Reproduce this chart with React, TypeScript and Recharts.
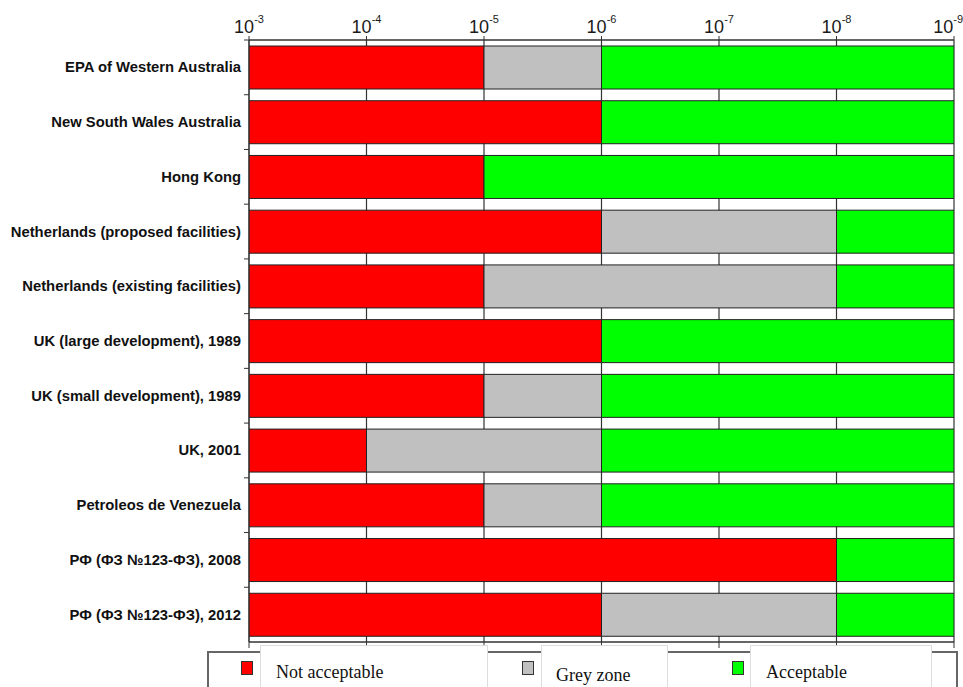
import React from "react";
import { BarChart, Bar, XAxis, YAxis, CartesianGrid } from "recharts";

const categories = [
  "EPA of Western Australia",
  "New South Wales Australia",
  "Hong Kong",
  "Netherlands (proposed facilities)",
  "Netherlands (existing facilities)",
  "UK (large development), 1989",
  "UK (small development), 1989",
  "UK, 2001",
  "Petroleos de Venezuela",
  "РФ (ФЗ №123-ФЗ), 2008",
  "РФ (ФЗ №123-ФЗ), 2012",
];
// exponent (10^-n) where "not acceptable" ends and "acceptable" begins
const notAcceptableEnd = [5, 6, 5, 6, 5, 6, 5, 4, 5, 8, 6];
const acceptableStart = [6, 6, 5, 8, 8, 6, 6, 6, 6, 8, 8];
const axisStart = 3;
const axisEnd = 9;
const tickExponents = [3, 4, 5, 6, 7, 8, 9];
const legendLabels = ["Not acceptable", "Grey zone", "Acceptable"];

const data = categories.map((name, i) => ({
  name,
  base: axisStart,
  red: notAcceptableEnd[i] - axisStart,
  grey: acceptableStart[i] - notAcceptableEnd[i],
  green: axisEnd - acceptableStart[i],
}));

const W = 963;
const H = 687;
const TOP = 40;
const BOTTOM_AXIS_H = 10;
const BOTTOM_MARGIN = 35;
const BAND = (H - TOP - BOTTOM_AXIS_H - BOTTOM_MARGIN) / categories.length;

const TopTick = (props: any) => {
  const { x, payload } = props;
  const last = payload.value === axisEnd;
  return (
    <text
      x={last ? 963 : x}
      y={33}
      textAnchor={last ? "end" : "middle"}
      fontFamily="'Liberation Sans', Arial, sans-serif"
      fill="#1a1a1a"
    >
      <tspan fontSize={18}>10</tspan>
      <tspan fontSize={11} dy={-10}>
        {"-" + payload.value}
      </tspan>
    </text>
  );
};

const EmptyTick = () => <g />;

const LeftTick = (props: any) => {
  const { y, payload } = props;
  return (
    <g>
      <line x1={244} x2={249} y1={y - BAND / 2} y2={y - BAND / 2} stroke="#333" />
      <text
        x={241}
        y={y + 5}
        textAnchor="end"
        fontFamily="'Liberation Sans', Arial, sans-serif"
        fontWeight="bold"
        fontSize={14.8}
        fill="#111"
      >
        {payload.value}
      </text>
    </g>
  );
};

const legendColors = ["#ff0000", "#c0c0c0", "#00ff00"];
const swatchX = [241, 522, 732];
const boxX = [260, 541, 750];
const boxW = [228, 127, 182];
const textX = [276, 556, 766];
const textY = [663, 666, 663];

export default function App() {
  return (
    <div style={{ position: "absolute", left: 0, top: 0, width: W, height: H, background: "#fff" }}>
      <BarChart
        width={W}
        height={H}
        data={data}
        layout="vertical"
        margin={{ top: 0, right: 9, bottom: BOTTOM_MARGIN, left: 0 }}
        barSize={43}
      >
        <CartesianGrid vertical={true} horizontal={false} stroke="#333" strokeWidth={1.2} xAxisId="top" />
        <XAxis
          xAxisId="top"
          type="number"
          orientation="top"
          domain={[axisStart, axisEnd]}
          ticks={tickExponents}
          allowDataOverflow
          height={TOP}
          tickSize={4}
          tick={<TopTick />}
          axisLine={{ stroke: "#333", strokeWidth: 1.5 }}
          tickLine={{ stroke: "#333" }}
        />
        <XAxis
          xAxisId="bottom"
          type="number"
          orientation="bottom"
          domain={[axisStart, axisEnd]}
          ticks={tickExponents}
          allowDataOverflow
          height={BOTTOM_AXIS_H}
          tickSize={6}
          tick={<EmptyTick />}
          axisLine={{ stroke: "#333", strokeWidth: 1.5 }}
          tickLine={{ stroke: "#333" }}
        />
        <YAxis
          type="category"
          dataKey="name"
          width={249}
          axisLine={{ stroke: "#333" }}
          tickLine={false}
          tick={<LeftTick />}
          interval={0}
        />
        <Bar dataKey="base" stackId="a" xAxisId="top" fill="none" stroke="none" isAnimationActive={false} />
        <Bar dataKey="red" stackId="a" xAxisId="top" fill="#ff0000" stroke="#222" strokeWidth={1} isAnimationActive={false} />
        <Bar dataKey="grey" stackId="a" xAxisId="top" fill="#c0c0c0" stroke="#222" strokeWidth={1} isAnimationActive={false} />
        <Bar dataKey="green" stackId="a" xAxisId="top" fill="#00ff00" stroke="#222" strokeWidth={1} isAnimationActive={false} />
      </BarChart>
      <div
        style={{
          position: "absolute",
          left: 207,
          top: 651,
          width: 751,
          height: 40,
          border: "2px solid #666",
          boxSizing: "border-box",
        }}
      />
      {legendLabels.map((label, i) => (
        <React.Fragment key={label}>
          <div
            style={{
              position: "absolute",
              left: swatchX[i],
              top: 661,
              width: 12,
              height: 14,
              background: legendColors[i],
              border: "1px solid #333",
              boxSizing: "border-box",
            }}
          />
          <div
            style={{
              position: "absolute",
              left: boxX[i],
              top: 645,
              width: boxW[i],
              height: 50,
              background: "#fff",
              border: "1px solid #ddd",
              boxSizing: "border-box",
            }}
          />
          <div
            style={{
              position: "absolute",
              left: textX[i],
              top: textY[i],
              fontFamily: "'Liberation Serif', 'Times New Roman', serif",
              fontSize: 18,
              color: "#111",
              whiteSpace: "nowrap",
              lineHeight: "18px",
            }}
          >
            {label}
          </div>
        </React.Fragment>
      ))}
    </div>
  );
}
